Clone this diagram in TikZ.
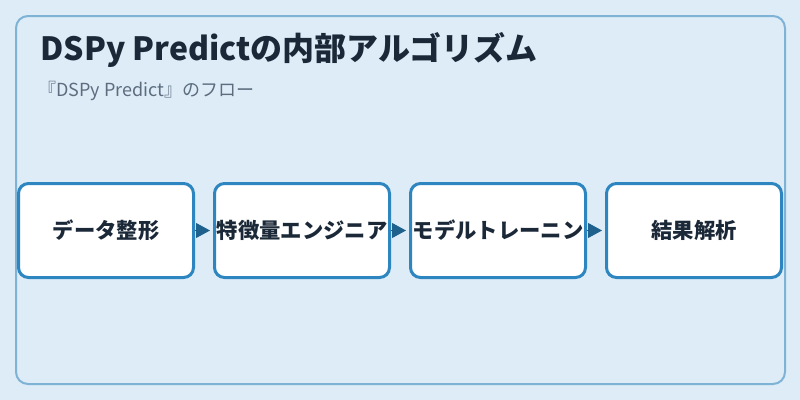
\documentclass[tikz,border=0pt]{standalone}
\usepackage{fontspec}
\setmainfont{Noto Sans CJK JP}
\usetikzlibrary{arrows.meta}

\definecolor{bgblue}{HTML}{DDECF7}
\definecolor{frameblue}{HTML}{7FB3D5}
\definecolor{boxline}{HTML}{2E86C1}
\definecolor{arrowblue}{HTML}{1F618D}
\definecolor{inkdark}{HTML}{1B2838}
\definecolor{subgray}{HTML}{5D6D7E}

\tikzset{
	stage/.style={draw=boxline, line width=2.25pt, fill=white, rounded corners=7.5pt,
		minimum width=131.25pt, minimum height=70.5pt, inner sep=0pt,
		font=\bfseries\fontsize{16}{19}\selectfont, text=inkdark},
	flow/.style={draw=arrowblue, line width=0.75pt, shorten >=2.25pt,
		-{Triangle[length=10.5pt, width=11.25pt]}},
	headline/.style={anchor=base west, inner sep=0pt, text=inkdark,
		font=\bfseries\fontsize{24}{29}\selectfont},
	subline/.style={anchor=base west, inner sep=0pt, text=subgray,
		font=\fontsize{13.5}{16}\selectfont}
}

\begin{document}
\begin{tikzpicture}[x=0.75pt, y=-0.75pt]
	\fill[bgblue] (0,0) rectangle (800,400);
	\useasboundingbox (0,0) rectangle (800,400);

	\draw[frameblue, line width=1.5pt, rounded corners=9pt] (16,16) rectangle (785,384);

	\node[headline] (title) at (40,60) {DSPy Predictの内部アルゴリズム};
	\node[subline] (subtitle) at (38,96) {『DSPy Predict』のフロー};

	\draw
		(106,230.5) node[stage] (prep) {データ整形}
		(302,230.5) node[stage] (feat) {特徴量エンジニア}
		(498,230.5) node[stage] (train) {モデルトレーニン}
		(694,230.5) node[stage] (eval) {結果解析};

	\draw[flow] (prep.east) -- (feat.west);
	\draw[flow] (feat.east) -- (train.west);
	\draw[flow] (train.east) -- (eval.west);
\end{tikzpicture}
\end{document}
